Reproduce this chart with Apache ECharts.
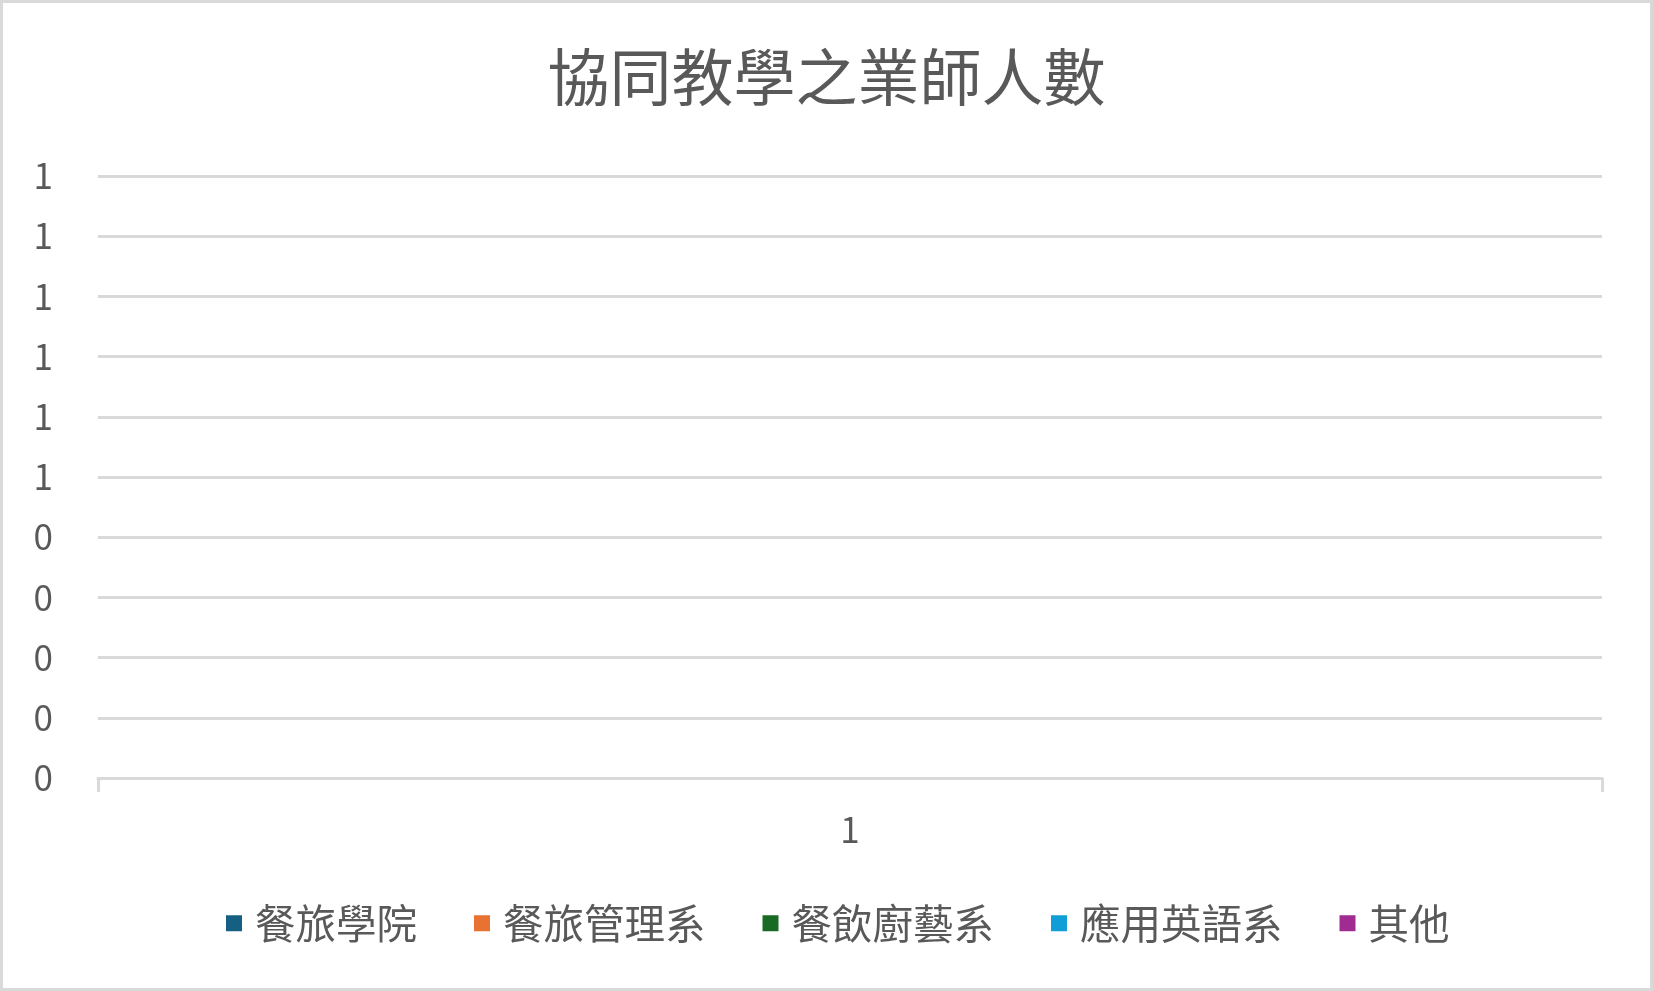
<!DOCTYPE html>
<html lang="zh-Hant">
<head>
<meta charset="UTF-8">
<title>協同教學之業師人數</title>
<script src="https://cdn.jsdelivr.net/npm/echarts@6/dist/echarts.min.js"></script>
<style>
  html, body { margin: 0; padding: 0; background: #fff; }
  #chart { width: 1653px; height: 991px; }
</style>
</head>
<body>
<div id="chart"></div>
<script>
// 類別與系列（全部為 0，圖上沒有柱子）
var categories = ['1'];
var seriesNames = ['餐旅學院', '餐旅管理系', '餐飲廚藝系', '應用英語系', '其他'];
var seriesValues = [[0], [0], [0], [0], [0]];
var seriesColors = ['#156082', '#E97132', '#196B24', '#0F9ED5', '#A02B93'];
// Excel 以整數格式顯示 0 ~ 1 的刻度
var yTickLabels = ['0', '0', '0', '0', '0', '1', '1', '1', '1', '1', '1'];

var font = '"Noto Sans CJK TC", "Noto Sans", sans-serif';
var textColor = '#595959';
var lineColor = '#d9d9d9';

var chart = echarts.init(document.getElementById('chart'));

var series = seriesNames.map(function (name, i) {
    return {
        name: name,
        type: 'bar',
        data: seriesValues[i],
        itemStyle: { color: seriesColors[i] }
    };
});

var option = {
    animation: false,
    backgroundColor: '#fff',
    title: {
        text: '協同教學之業師人數',
        left: 'center',
        top: 41,
        textStyle: {
            fontFamily: font,
            fontSize: 62,
            fontWeight: 'normal',
            color: textColor
        }
    },
    legend: {
        data: seriesNames,
        left: 221,
        top: 898,
        itemWidth: 16,
        itemHeight: 16,
        itemGap: 57,
        icon: 'rect',
        textStyle: {
            fontFamily: font,
            fontSize: 40.5,
            color: textColor,
            padding: [0, 0, 0, 8]
        }
    },
    grid: { left: 98, right: 51, top: 176, bottom: 213, containLabel: false },
    xAxis: {
        type: 'category',
        data: categories,
        axisLine: { lineStyle: { color: lineColor, width: 3 } },
        axisTick: { show: true, length: 14, lineStyle: { color: lineColor, width: 3 } },
        axisLabel: { fontFamily: font, fontSize: 35, color: textColor, margin: 34 }
    },
    yAxis: {
        type: 'value',
        min: 0,
        max: 1,
        interval: 0.1,
        axisLine: { show: false },
        axisTick: { show: false },
        splitLine: { lineStyle: { color: lineColor, width: 3 } },
        axisLabel: {
            fontFamily: font,
            fontSize: 35,
            color: textColor,
            margin: 45,
            formatter: function (v, idx) { return yTickLabels[idx]; }
        }
    },
    graphic: [{
        type: 'rect',
        shape: { x: 1.5, y: 1.5, width: 1650, height: 988 },
        style: { fill: 'none', stroke: lineColor, lineWidth: 3 },
        silent: true
    }],
    series: series
};

chart.setOption(option);
</script>
</body>
</html>
